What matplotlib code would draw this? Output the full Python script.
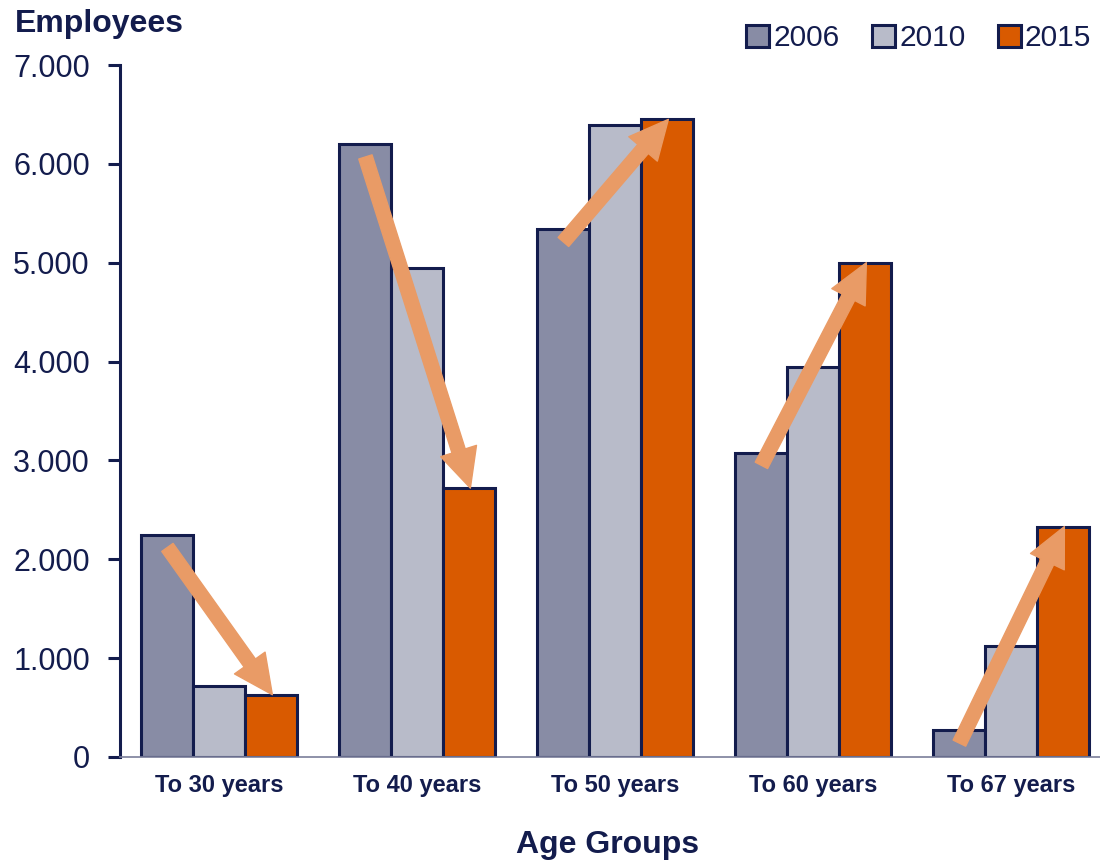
import matplotlib.pyplot as plt
from matplotlib.ticker import FuncFormatter
import numpy as np

# data
groups = ['To 30 years', 'To 40 years', 'To 50 years', 'To 60 years', 'To 67 years']
years = ['2006', '2010', '2015']
emp_2006 = [2250, 6200, 5340, 3080, 270]
emp_2010 = [720, 4950, 6390, 3950, 1120]
emp_2015 = [630, 2720, 6450, 5000, 2330]

navy = '#131c4d'
colors = ['#888ca5', '#b8bbc9', '#d95a00']
arrow_col = '#e99b66'

plt.rcParams['font.family'] = ['Liberation Sans', 'DejaVu Sans']

fig = plt.figure(figsize=(11, 8.6), dpi=100)
ax = fig.add_axes([0.109, 0.1198, 0.891, 0.8046])

x = np.arange(len(groups))
w = 0.263
for k, (vals, col, lab) in enumerate(zip([emp_2006, emp_2010, emp_2015], colors, years)):
    ax.bar(x + (k - 1) * w, vals, width=w, color=col, edgecolor=navy,
           linewidth=2.2, label=lab, zorder=2)

# trend arrows from the 2006 bar to the 2015 bar
for i in range(len(groups)):
    ax.annotate('', xy=(x[i] + 0.27, emp_2015[i]), xytext=(x[i] - 0.26, emp_2006[i] - 130),
                arrowprops=dict(arrowstyle='simple,head_width=1.35,head_length=1.4,tail_width=0.5',
                                color=arrow_col, mutation_scale=20, shrinkA=0, shrinkB=0),
                zorder=3)

ax.set_xlim(-0.5, 4.45)
ax.set_ylim(0, 7000)
ax.set_yticks(range(0, 7001, 1000))
ax.yaxis.set_major_formatter(FuncFormatter(lambda v, p: f'{int(v):,}'.replace(',', '.')))
ax.set_xticks(x)
ax.set_xticklabels(groups, fontsize=17, fontweight='bold', color=navy)

for s in ['top', 'right']:
    ax.spines[s].set_visible(False)
ax.spines['left'].set_color(navy)
ax.spines['left'].set_linewidth(2.2)
ax.spines['bottom'].set_color('#7a7e9a')
ax.spines['bottom'].set_linewidth(1.2)
ax.spines['bottom'].set_zorder(4)

ax.tick_params(axis='y', direction='out', length=8.6, width=2.2, color=navy,
               labelsize=22, labelcolor=navy, pad=13)
ax.tick_params(axis='x', length=0, pad=12)

fig.text(15 / 1100, 1 - 24 / 860, 'Employees', fontsize=23, fontweight='bold',
         color=navy, ha='left', va='center')
fig.text(608 / 1100, 1 - 845 / 860, 'Age Groups', fontsize=23, fontweight='bold',
         color=navy, ha='center', va='center')

leg = fig.legend(loc='upper right', bbox_to_anchor=(1.003, 0.986), ncol=3, frameon=False,
                 fontsize=21.5, handlelength=0.75, handleheight=0.75, handletextpad=0.15,
                 columnspacing=1.1, borderaxespad=0.0)
for t in leg.get_texts():
    t.set_color(navy)

fig.savefig('out.png', dpi=100)
plt.close(fig)
